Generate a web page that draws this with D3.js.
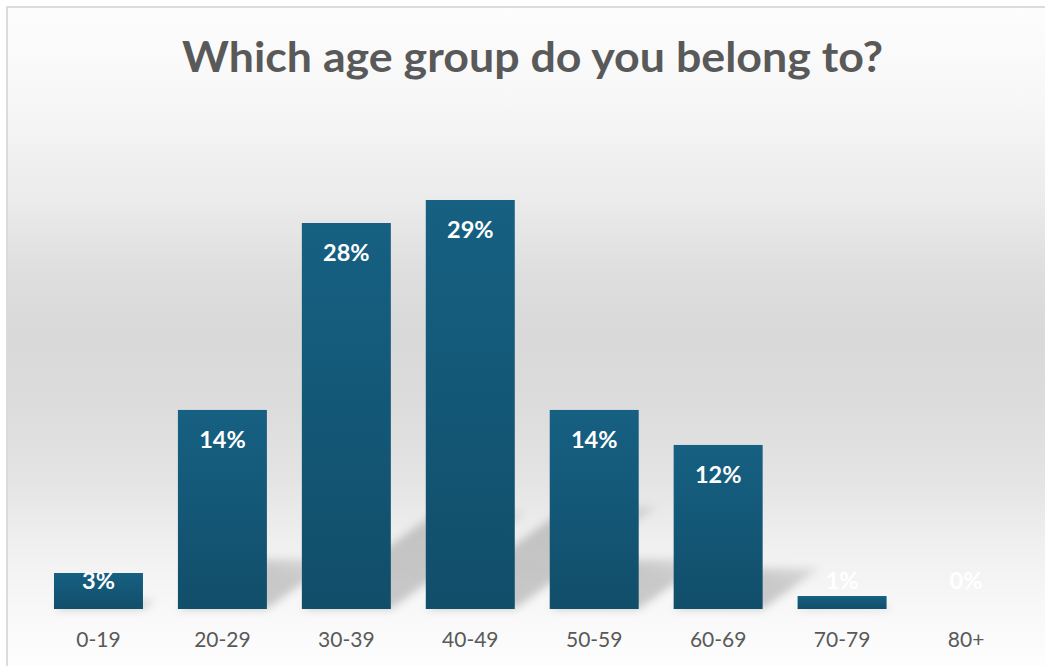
<!DOCTYPE html>
<html>
<head>
<meta charset="utf-8">
<script src="https://cdn.jsdelivr.net/npm/d3@7"></script>
<style>
  html, body { margin: 0; padding: 0; background: #ffffff; }
  svg { display: block; }
</style>
</head>
<body>
<svg id="chart" width="1045" height="666"></svg>
<script>
// ---- data ----
const title = "Which age group do you belong to?";
const categories = ["0-19", "20-29", "30-39", "40-49", "50-59", "60-69", "70-79", "80+"];
const values = [2.58, 14.27, 27.67, 29.32, 14.27, 11.76, 0.93, 0];
const valueLabels = ["3%", "14%", "28%", "29%", "14%", "12%", "1%", "0%"];

// ---- layout ----
const W = 1045, H = 666;
const plot = { left: 36.5, right: 1028, base: 609 };
const svg = d3.select("#chart");
const defs = svg.append("defs");

// background gradient
const bg = defs.append("linearGradient").attr("id", "bg")
  .attr("x1", 0).attr("y1", 0).attr("x2", 0).attr("y2", 1);
[[0, "#fdfdfd"], [0.14, "#f7f7f7"], [0.29, "#ebebeb"], [0.40, "#dedede"],
 [0.49, "#d9d9d9"], [0.60, "#dcdcdc"], [0.71, "#e4e4e4"], [0.81, "#f0f0f0"],
 [0.905, "#f8f8f8"], [1, "#fefefe"]].forEach(([o, c]) =>
  bg.append("stop").attr("offset", o).attr("stop-color", c));

// bar gradient
const bar = defs.append("linearGradient").attr("id", "barGrad")
  .attr("x1", 0).attr("y1", 0).attr("x2", 0).attr("y2", 1);
bar.append("stop").attr("offset", 0).attr("stop-color", "#166082");
bar.append("stop").attr("offset", 1).attr("stop-color", "#114e6a");

// shadow gradient + blur
const sg = defs.append("linearGradient").attr("id", "shadowGrad")
  .attr("x1", 0).attr("y1", 1).attr("x2", 0.9).attr("y2", 0);
sg.append("stop").attr("offset", 0).attr("stop-color", "#000").attr("stop-opacity", 0.2);
sg.append("stop").attr("offset", 0.7).attr("stop-color", "#000").attr("stop-opacity", 0.18);
sg.append("stop").attr("offset", 1).attr("stop-color", "#000").attr("stop-opacity", 0.1);
defs.append("filter").attr("id", "blur")
  .attr("x", "-20%").attr("y", "-20%").attr("width", "140%").attr("height", "140%")
  .append("feGaussianBlur").attr("stdDeviation", 4);

// frame
svg.append("rect").attr("x", 7).attr("y", 7).attr("width", W).attr("height", H)
  .attr("fill", "url(#bg)").attr("stroke", "#d9d9d9").attr("stroke-width", 1.8);

// scales
const x = d3.scaleBand().domain(categories).range([plot.left, plot.right]).paddingInner(0.282).paddingOuter(0.141);
const y = d3.scaleLinear().domain([0, 35]).range([plot.base, plot.base - 35 * 13.95]);

const data = categories.map((c, i) => ({ c, v: values[i], label: valueLabels[i] }));

// shadows (perspective, upper right)
const shadowScale = 0.25, shadowSlope = 0.72;
svg.append("g").attr("filter", "url(#blur)")
  .selectAll("path").data(data.filter(d => d.v > 0)).join("path")
  .attr("d", d => {
    const x0 = x(d.c), x1 = x0 + x.bandwidth();
    const h = (plot.base - y(d.v)) * shadowScale;
    const dx = h / shadowSlope;
    return `M${x0},${plot.base}L${x1},${plot.base}L${x1 + dx},${plot.base - h}L${x0 + dx},${plot.base - h}Z`;
  })
  .attr("fill", "url(#shadowGrad)");

// bars
svg.append("g").selectAll("rect").data(data).join("rect")
  .attr("x", d => x(d.c))
  .attr("y", d => y(d.v))
  .attr("width", x.bandwidth())
  .attr("height", d => plot.base - y(d.v))
  .attr("fill", "url(#barGrad)");

// value labels
svg.append("g").selectAll("text").data(data).join("text")
  .attr("x", d => x(d.c) + x.bandwidth() / 2)
  .attr("y", d => Math.min(y(d.v) + 38, 589))
  .attr("text-anchor", "middle")
  .attr("font-family", "Lato, 'Open Sans', sans-serif")
  .attr("font-weight", "bold")
  .attr("font-size", 23.5)
  .attr("fill", "#ffffff")
  .text(d => d.label);

// x axis labels
const xAxis = d3.axisBottom(x).tickSize(0).tickPadding(0);
const gx = svg.append("g").attr("transform", `translate(0,${plot.base})`).call(xAxis);
gx.select(".domain").remove();
gx.selectAll("text")
  .attr("y", 38).attr("dy", 0)
  .attr("font-family", "Lato, 'Open Sans', sans-serif")
  .attr("font-size", 21)
  .attr("fill", "#595959");

// title
svg.append("text")
  .attr("x", 532.5).attr("y", 72)
  .attr("text-anchor", "middle")
  .attr("font-family", "Lato, 'Open Sans', sans-serif")
  .attr("font-weight", "bold")
  .attr("font-size", 42)
  .attr("textLength", 701)
  .attr("lengthAdjust", "spacingAndGlyphs")
  .attr("fill", "#595959")
  .text(title);
</script>
</body>
</html>
